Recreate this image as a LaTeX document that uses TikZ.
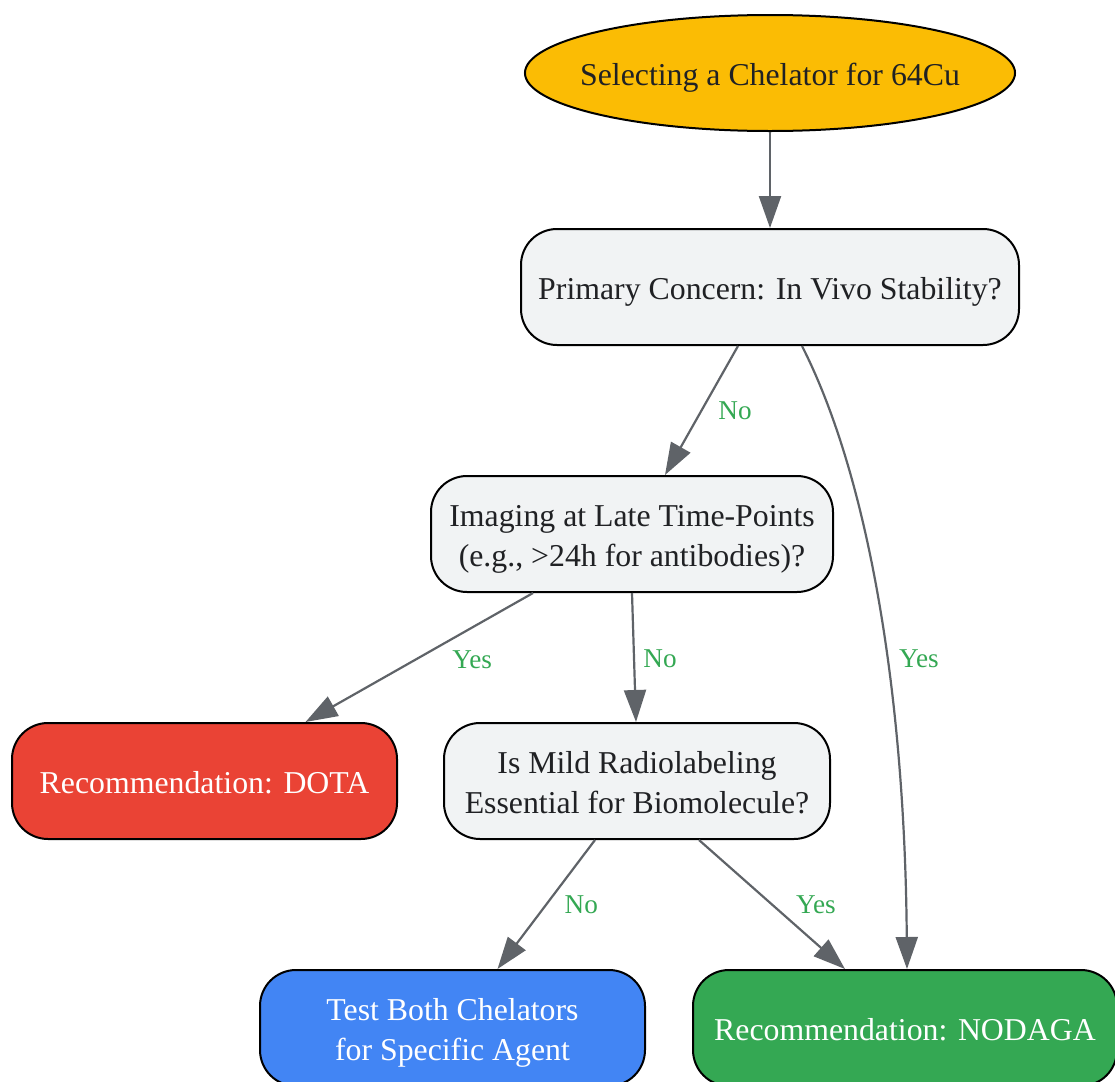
\documentclass[tikz,border=0pt]{standalone}
\usepackage{fontspec}
\setmainfont{Liberation Serif}
\usetikzlibrary{shapes.geometric,arrows.meta,calc}
\definecolor{gyellow}{HTML}{FBBC04}
\definecolor{gred}{HTML}{EA4335}
\definecolor{gblue}{HTML}{4285F4}
\definecolor{ggreen}{HTML}{34A853}
\definecolor{glight}{HTML}{F1F3F4}
\definecolor{gtext}{HTML}{202124}
\definecolor{gedge}{HTML}{5F6368}
\newcommand\mystrut{\rule[-3.5pt]{0pt}{19pt}}
\begin{document}
\begin{tikzpicture}[x=0.5pt,y=-0.5pt,
  box/.style={draw=black,line width=1pt,rounded corners=18pt,minimum height=58pt,
    align=center,font=\fontsize{15.9}{18.5}\selectfont,text=gtext,fill=glight,inner sep=0pt},
  oval/.style={ellipse,draw=black,line width=1pt,minimum height=58pt,inner xsep=-8.3pt,inner ysep=0pt,
    font=\fontsize{15.9}{18.5}\selectfont,text=gtext,fill=gyellow},
  conn/.style={draw=gedge,line width=1.1pt,-{Triangle[length=16pt,width=11pt]}},
  lab/.style={text=ggreen,font=\fontsize{13.6}{16}\selectfont,inner sep=0pt}]
\useasboundingbox (0,0) rectangle (1115,1082);
\clip (0,0) rectangle (1115,1082);
\node[oval] (s) at (770,73) {\mystrut Selecting a Chelator for 64Cu};
\node[box,minimum width=249pt] (p) at (770,287) {\mystrut Primary Concern: In Vivo Stability?};
\node[box,minimum width=201pt] (im) at (632,534) {\mystrut Imaging at Late Time-Points\\\mystrut(e.g., >24h for antibodies)?};
\node[box,minimum width=192.5pt,fill=gred,text=white] (dota) at (204.5,781) {\mystrut Recommendation: DOTA};
\node[box,minimum width=193pt] (mild) at (637,781) {\mystrut Is Mild Radiolabeling\\\mystrut Essential for Biomolecule?};
\node[box,minimum width=192.5pt,fill=gblue,text=white] (test) at (452.5,1028) {\mystrut Test Both Chelators\\\mystrut for Specific Agent};
\node[box,minimum width=212pt,fill=ggreen,text=white] (nod) at (905,1028) {\mystrut Recommendation: NODAGA};
\draw[conn] (s) -- (p);
\draw[conn] ([xshift=-16pt]p.south) -- node[lab,pos=0.5,xshift=16.75pt]{No} ([xshift=16.5pt]im.north);
\draw[conn] ([xshift=16pt]p.south) .. controls (870,480) and (905,700) .. node[lab,pos=0.58,xshift=16pt]{Yes} ([xshift=1pt]nod.north);
\draw[conn] ([xshift=-49.5pt]im.south) -- node[lab,pos=0.5,xshift=26.5pt,yshift=-1pt]{Yes} ([xshift=50.5pt]dota.north);
\draw[conn] (im.south) -- node[lab,pos=0.5,xshift=13pt,yshift=-0.75pt]{No} ([xshift=-0.5pt]mild.north);
\draw[conn] ([xshift=-21pt]mild.south) -- node[lab,pos=0.5,xshift=17.5pt]{No} ([xshift=22.5pt]test.north);
\draw[conn] ([xshift=31pt]mild.south) -- node[lab,pos=0.5,xshift=22pt]{Yes} ([xshift=-30pt]nod.north);
\end{tikzpicture}
\end{document}
